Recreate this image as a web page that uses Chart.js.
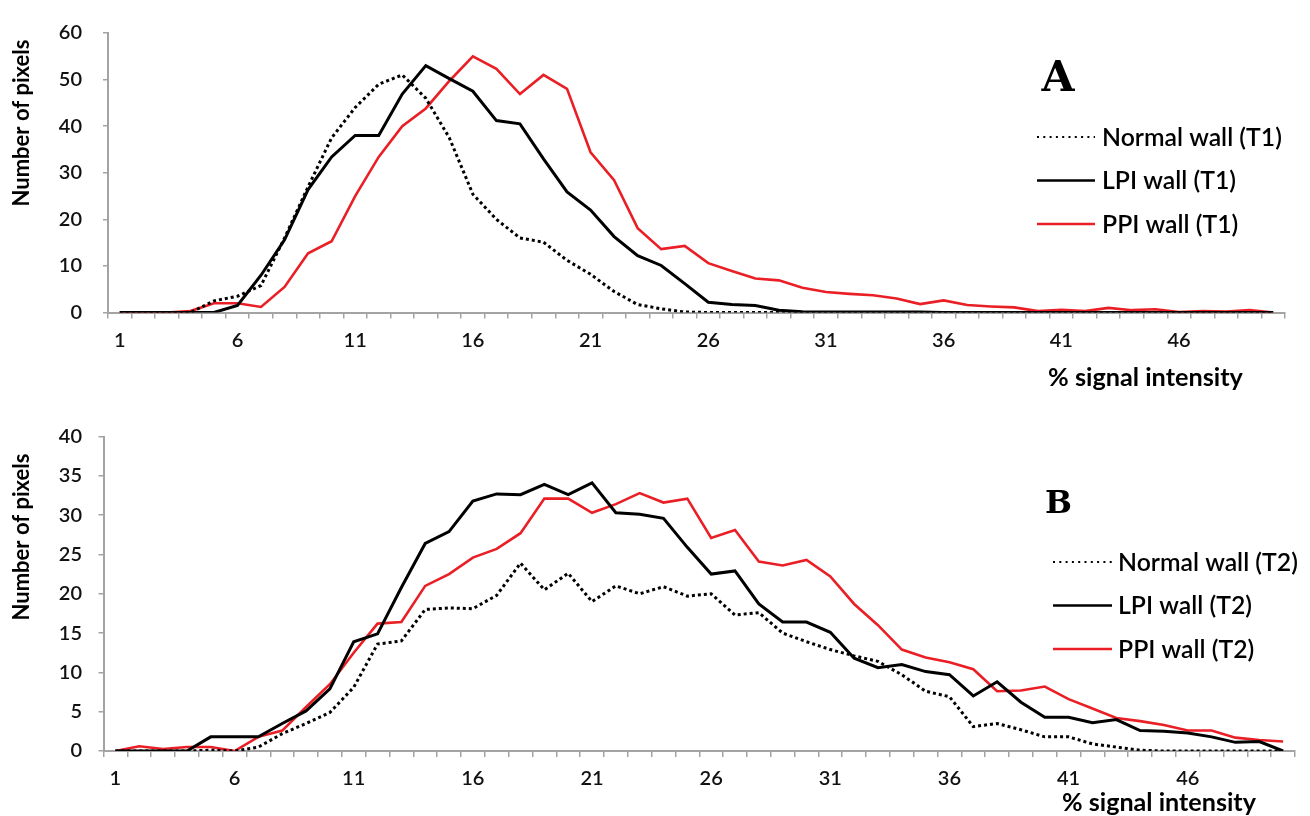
<!DOCTYPE html>
<html><head><meta charset="utf-8">
<script src="https://cdn.jsdelivr.net/npm/chart.js@4.4.1/dist/chart.umd.min.js"></script>
<style>
html,body{margin:0;padding:0;background:#fff;}
#wrap{position:relative;width:1310px;height:816px;overflow:hidden;}
.box{position:absolute;left:0;width:1310px;height:408px;}
canvas{display:block;}
</style></head><body>
<div id="wrap">
<div class="box" style="top:0"><canvas id="c1" width="1310" height="408"></canvas></div>
<div class="box" style="top:408px"><canvas id="c2" width="1310" height="408"></canvas></div>
</div>
<script>
const categories = ['1','2','3','4','5','6','7','8','9','10','11','12','13','14','15','16','17','18','19','20','21','22','23','24','25','26','27','28','29','30','31','32','33','34','35','36','37','38','39','40','41','42','43','44','45','46','47','48','49','50'];

const t1Normal = [0,0,0,0,2.5,3.5,5.8,16,27,37.5,44,49,51,46,37.5,25.4,20,16,15.1,11.2,8.2,4.5,1.7,0.8,0.1,0,0,0,0,0,0,0,0,0,0,0,0,0,0,0,0,0,0,0,0,0,0,0,0,0];
const t1LPI    = [0,0,0,0,0,1.5,8,15.6,26.4,33.4,38,38,46.9,53,50.2,47.5,41.2,40.5,33,25.9,22,16.3,12.2,10.1,6.2,2.2,1.7,1.5,0.5,0.15,0.1,0.1,0.1,0.1,0.1,0,0,0,0,0,0,0,0,0,0,0,0,0,0,0];
const t1PPI    = [0,0,0,0.3,2,2,1.2,5.5,12.7,15.3,25,33.4,40,43.8,49.7,55,52.3,46.9,51,48,34.4,28.4,18.1,13.6,14.3,10.6,8.9,7.3,6.9,5.3,4.4,4.0,3.7,3.0,1.8,2.6,1.6,1.3,1.1,0.3,0.6,0.3,1.0,0.5,0.7,0.1,0.3,0.2,0.5,0];

const t2Normal = [0,0,0,0,0.1,0,0.5,2.2,3.5,4.9,8.1,13.6,14,18,18.2,18.1,19.8,23.9,20.5,22.6,19,21,20,20.9,19.7,20,17.3,17.6,15,13.9,12.9,12.1,11.4,9.7,7.6,6.9,3.1,3.5,2.7,1.8,1.8,0.9,0.5,0.1,0,0,0,0,0,0];
const t2LPI    = [0,0,0,0,1.8,1.8,1.8,3.5,5.1,7.9,13.9,14.9,20.8,26.4,27.9,31.8,32.7,32.6,33.9,32.6,34.1,30.3,30.1,29.6,25.9,22.5,22.9,18.7,16.4,16.4,15.1,11.8,10.6,11,10.1,9.7,7,8.8,6.2,4.3,4.3,3.6,4,2.6,2.5,2.3,1.8,1.1,1.2,0];
const t2PPI    = [0,0.6,0.25,0.5,0.5,0,1.8,2.6,5.6,8.5,12.5,16.2,16.4,21,22.5,24.6,25.7,27.7,32.1,32.1,30.3,31.4,32.8,31.6,32.1,27.1,28.1,24.1,23.6,24.3,22.2,18.7,16,12.9,11.9,11.3,10.4,7.6,7.7,8.2,6.6,5.4,4.2,3.8,3.3,2.6,2.6,1.7,1.4,1.2];

const labelsA = ['Normal wall (T1)','LPI wall (T1)','PPI wall (T1)'];
const labelsB = ['Normal wall (T2)','LPI wall (T2)','PPI wall (T2)'];
const yTicksA = {max:60, step:10};
const yTicksB = {max:40, step:5};

const RED = '#ea1f26';
const AXIS = '#a3a3a3';
const FONT = 'Lato, "Open Sans", sans-serif';

function fitSize(ctx, text, weight, family, target){
  ctx.font = weight + ' 100px ' + family;
  const w = ctx.measureText(text).width;
  return 100 * target / w;
}

const extras = {
  id:'extras',
  afterDraw(chart, args, o){
    const ctx = chart.ctx;
    ctx.save();
    ctx.fillStyle = '#000';
    // y title
    let s = fitSize(ctx, o.yTitle, 'bold', FONT, o.yTitleLen);
    ctx.font = 'bold ' + s + 'px ' + FONT;
    ctx.save();
    ctx.translate(o.yTitleX, o.yTitleY);
    ctx.rotate(-Math.PI/2);
    ctx.textAlign = 'center'; ctx.textBaseline = 'middle';
    ctx.fillText(o.yTitle, 0, 0);
    ctx.restore();
    // x title
    s = fitSize(ctx, o.xTitle, 'bold', FONT, o.xTitleLen);
    ctx.font = 'bold ' + s + 'px ' + FONT;
    ctx.textAlign = 'center'; ctx.textBaseline = 'middle';
    ctx.fillText(o.xTitle, o.xTitleX, o.xTitleY);
    // panel letter
    s = fitSize(ctx, o.letter, 'bold', '"DejaVu Serif", serif', o.letterLen);
    ctx.font = 'bold ' + s + 'px "DejaVu Serif", serif';
    ctx.textAlign = 'center'; ctx.textBaseline = 'alphabetic';
    ctx.fillText(o.letter, o.letterX, o.letterY);
    // legend
    const ls = fitSize(ctx, chart.data.datasets[0].label, '600', FONT, o.legendLen);
    chart.data.datasets.forEach((ds, i) => {
      const y = o.legendY + i * o.legendGap;
      ctx.beginPath();
      ctx.strokeStyle = ds.borderColor;
      ctx.lineWidth = ds.legendWidth || ds.borderWidth;
      ctx.setLineDash(ds.legendDash || []);
      ctx.moveTo(o.legendX1, y); ctx.lineTo(o.legendX2, y);
      ctx.stroke();
      ctx.setLineDash([]);
      ctx.font = '600 ' + ls + 'px ' + FONT;
      ctx.fillStyle = '#000';
      ctx.textAlign = 'left'; ctx.textBaseline = 'middle';
      ctx.fillText(ds.label, o.legendTextX, y + 1);
    });
    ctx.restore();
  }
};

function makeDatasets(labels, normal, lpi, ppi){
  return [
    {label:labels[0], data:normal, borderColor:'#000', borderWidth:3, borderDash:[3,3], legendWidth:2.2, legendDash:[2,4.3], pointRadius:0, fill:false, tension:0},
    {label:labels[1], data:lpi, borderColor:'#000', borderWidth:3, legendWidth:2.6, pointRadius:0, fill:false, tension:0},
    {label:labels[2], data:ppi, borderColor:RED, borderWidth:2.6, legendWidth:2.4, pointRadius:0, fill:false, tension:0}
  ];
}

function build(id, datasets, yt, area, canvasH, yPad, ex){
  return new Chart(document.getElementById(id), {
    type:'line',
    data:{labels:categories, datasets:datasets},
    options:{
      responsive:false, animation:false,
      layout:{padding:{left:0, right:1310-area.right, top:area.top, bottom:0}},
      plugins:{legend:{display:false}, tooltip:{enabled:false}, extras:ex},
      scales:{
        x:{
          type:'category', offset:true,
          afterFit:(s)=>{ s.height = canvasH - area.bottom; },
          grid:{offset:true, drawOnChartArea:false, drawTicks:true, tickLength:6, color:AXIS, lineWidth:1.5},
          border:{color:AXIS, width:2},
          ticks:{autoSkip:false, maxRotation:0, minRotation:0, padding:10, color:'#111',
                 font:{family:FONT, size:20, weight:'600'},
                 callback:(v,i)=> (i % 5 === 0 ? categories[i] : '')}
        },
        y:{
          min:0, max:yt.max,
          afterFit:(s)=>{ s.width = area.left; },
          grid:{drawOnChartArea:false, drawTicks:true, tickLength:5, color:AXIS, lineWidth:1.5},
          border:{color:AXIS, width:2},
          ticks:{stepSize:yt.step, padding:yPad, color:'#111', font:{family:FONT, size:20, weight:'600'}}
        }
      }
    },
    plugins:[extras]
  });
}

build('c1', makeDatasets(labelsA, t1Normal, t1LPI, t1PPI), yTicksA,
  {left:108, right:1285, top:15, bottom:312.5}, 408, 21,
  {yTitle:'Number of pixels', yTitleX:22, yTitleY:123, yTitleLen:167,
   xTitle:'% signal intensity', xTitleX:1145.5, xTitleY:378, xTitleLen:195,
   letter:'A', letterX:1058, letterY:91, letterLen:33,
   legendX1:1037, legendX2:1095, legendTextX:1102, legendY:137, legendGap:43.5, legendLen:180});

build('c2', makeDatasets(labelsB, t2Normal, t2LPI, t2PPI), yTicksB,
  {left:103.5, right:1295, top:24, bottom:343}, 408, 16.5,
  {yTitle:'Number of pixels', yTitleX:22, yTitleY:129, yTitleLen:167,
   xTitle:'% signal intensity', xTitleX:1159, xTitleY:395, xTitleLen:194,
   letter:'B', letterX:1058.5, letterY:104.7, letterLen:27,
   legendX1:1053, legendX2:1112, legendTextX:1118, legendY:154, legendGap:43.5, legendLen:180});
</script>
</body></html>
